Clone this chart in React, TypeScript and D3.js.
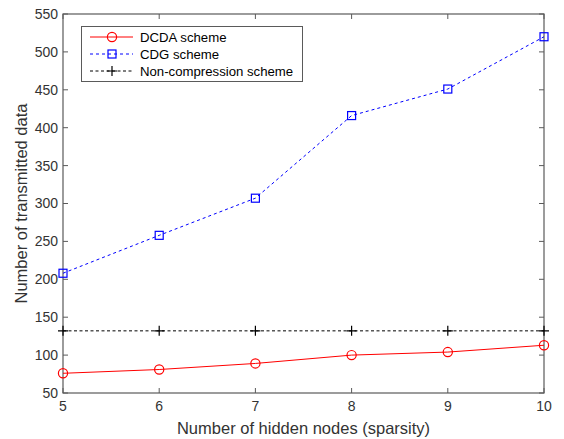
import React, { useEffect, useRef } from 'react'
import * as d3 from 'd3'

const sparsity = [5, 6, 7, 8, 9, 10]
const dcda = [76, 81, 89, 100, 104, 113]
const cdg = [208, 258, 307, 416, 451, 520]
const nonCompression = [132, 132, 132, 132, 132, 132]
const yTicks = [50, 100, 150, 200, 250, 300, 350, 400, 450, 500, 550]

const W = 564
const H = 439
const margin = { left: 63, top: 14, right: 20, bottom: 46 }
const axisColor = '#5a5a5a'
const textColor = '#333'
const font = 'Liberation Sans, Arial, sans-serif'

function drawChart(el: SVGSVGElement) {
    const svg = d3.select(el)
    svg.selectAll('*').remove()

    const x = d3.scaleLinear().domain([5, 10]).range([margin.left, W - margin.right])
    const y = d3.scaleLinear().domain([50, 550]).range([H - margin.bottom, margin.top])
    const [x0, x1] = x.range()
    const [y0, y1] = y.range()

    svg.append('rect').attr('width', W).attr('height', H).attr('fill', '#fff')

    // box + ticks
    const g = svg.append('g')
    g.append('rect')
        .attr('x', x0).attr('y', y1).attr('width', x1 - x0).attr('height', y0 - y1)
        .attr('fill', 'none').attr('stroke', axisColor).attr('stroke-width', 1.2)

    const tl = 5
    sparsity.forEach(v => {
        g.append('line').attr('x1', x(v)).attr('x2', x(v)).attr('y1', y0).attr('y2', y0 - tl)
            .attr('stroke', axisColor)
        g.append('line').attr('x1', x(v)).attr('x2', x(v)).attr('y1', y1).attr('y2', y1 + tl)
            .attr('stroke', axisColor)
        g.append('text').attr('x', x(v)).attr('y', y0 + 18)
            .attr('text-anchor', 'middle').attr('font-size', 14).attr('font-family', font)
            .attr('fill', textColor).text(v)
    })
    yTicks.forEach(v => {
        g.append('line').attr('x1', x0).attr('x2', x0 + tl).attr('y1', y(v)).attr('y2', y(v))
            .attr('stroke', axisColor)
        g.append('line').attr('x1', x1).attr('x2', x1 - tl).attr('y1', y(v)).attr('y2', y(v))
            .attr('stroke', axisColor)
        g.append('text').attr('x', x0 - 5).attr('y', y(v)).attr('dy', '0.35em')
            .attr('text-anchor', 'end').attr('font-size', 14).attr('font-family', font)
            .attr('fill', textColor).text(v)
    })

    // axis labels
    svg.append('text').attr('x', (x0 + x1) / 2).attr('y', H - 5)
        .attr('text-anchor', 'middle').attr('font-size', 16.5).attr('font-family', font)
        .attr('fill', textColor).text('Number of hidden nodes (sparsity)')
    svg.append('text')
        .attr('transform', `translate(27,${(y0 + y1) / 2}) rotate(-90)`)
        .attr('text-anchor', 'middle').attr('font-size', 16.5).attr('font-family', font)
        .attr('fill', textColor).text('Number of transmitted data')

    const series = [
        { name: 'Non-compression scheme', values: nonCompression, color: '#000', dash: '3,2.5', marker: 'plus' },
        { name: 'CDG scheme', values: cdg, color: '#0000ff', dash: '3,3', marker: 'square' },
        { name: 'DCDA scheme', values: dcda, color: '#ff0000', dash: null, marker: 'circle' },
    ]

    const drawMarker = (sel: any, m: string, color: string, cx: number, cy: number) => {
        if (m === 'circle') {
            sel.append('circle').attr('cx', cx).attr('cy', cy).attr('r', 4.6)
                .attr('fill', 'none').attr('stroke', color).attr('stroke-width', 1.2)
        } else if (m === 'square') {
            sel.append('rect').attr('x', cx - 4).attr('y', cy - 4).attr('width', 8).attr('height', 8)
                .attr('fill', 'none').attr('stroke', color).attr('stroke-width', 1.2)
        } else {
            sel.append('path').attr('d', `M${cx - 5},${cy}H${cx + 5}M${cx},${cy - 5}V${cy + 5}`)
                .attr('stroke', color).attr('stroke-width', 1.2)
        }
    }

    const line = d3.line<number>().x((d, i) => x(sparsity[i])).y(d => y(d))
    series.forEach(s => {
        svg.append('path').attr('d', line(s.values))
            .attr('fill', 'none').attr('stroke', s.color).attr('stroke-width', 1)
            .attr('stroke-dasharray', s.dash)
        s.values.forEach((v, i) => drawMarker(svg, s.marker, s.color, x(sparsity[i]), y(v)))
    })

    // legend
    const lg = svg.append('g')
    lg.append('rect').attr('x', 81.5).attr('y', 26.5).attr('width', 221).attr('height', 55)
        .attr('fill', '#fff').attr('stroke', axisColor).attr('stroke-width', 1)
    const order = [series[2], series[1], series[0]]
    order.forEach((s, i) => {
        const ly = 37 + i * 17
        lg.append('line').attr('x1', 90).attr('x2', 133).attr('y1', ly).attr('y2', ly)
            .attr('stroke', s.color).attr('stroke-width', 1).attr('stroke-dasharray', s.dash)
        drawMarker(lg, s.marker, s.color, 112, ly)
        lg.append('text').attr('x', 140).attr('y', ly).attr('dy', '0.35em')
            .attr('font-size', 13.2).attr('font-family', font).attr('fill', '#000').text(s.name)
    })
}

const App = () => {
    const ref = useRef<SVGSVGElement>(null)
    useEffect(() => {
        if (ref.current) drawChart(ref.current)
    })
    return (
        <svg ref={ref} width={W} height={H} style={{ position: 'absolute', left: 0, top: 0 }} />
    )
}

export default App
